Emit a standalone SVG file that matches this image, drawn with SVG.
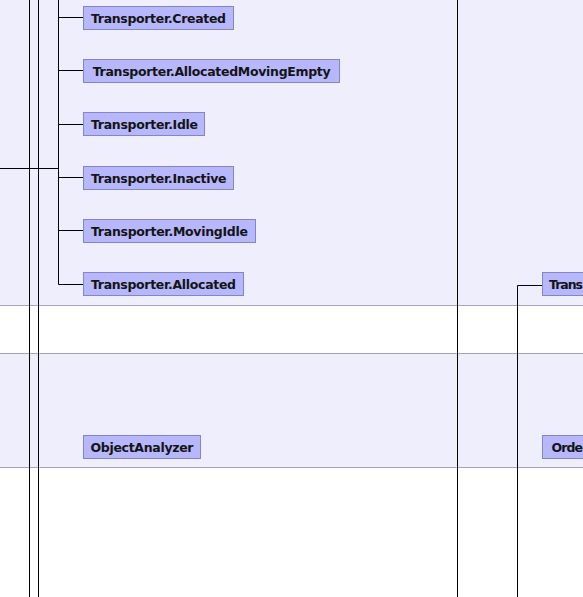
<svg xmlns="http://www.w3.org/2000/svg" width="583" height="597" viewBox="0 0 583 597">
<style>
.band{fill:#EEEEFC}
.sep{stroke:#A3A3B8;stroke-width:1}
.node rect{fill:#B7B7FB;stroke:#8585C4;stroke-width:1}
.node text{font-family:"DejaVu Sans","Liberation Sans",sans-serif;font-weight:bold;font-size:12.5px;fill:#141414}
.conn{stroke:#000;stroke-width:1;fill:none}
</style>
<rect x="0" y="0" width="583" height="597" fill="#FFFFFF"/>
<rect class="band" x="0" y="0" width="583" height="305"/>
<rect class="band" x="0" y="353" width="583" height="114"/>
<line class="sep" x1="0" y1="305.5" x2="583" y2="305.5"/>
<line class="sep" x1="0" y1="353.5" x2="583" y2="353.5"/>
<line class="sep" x1="0" y1="467.5" x2="583" y2="467.5"/>
<g id="connectors">
<path class="conn" d="M29.5 0V597M38.5 0V597M58.5 0V284.5M457.5 0V597"/>
<path class="conn" d="M0 168.5H58.5"/>
<path class="conn" d="M58.5 17.5H83.5M58.5 70.5H83.5M58.5 124.5H83.5M58.5 177.5H83.5M58.5 230.5H83.5M58.5 284.5H83.5"/>
<path class="conn" d="M517.5 597V285.5H542.5"/>
</g>
<g id="n-created" class="node"><rect x="83.5" y="6.5" width="150" height="23"/><text x="91" y="23" textLength="135" lengthAdjust="spacing">Transporter.Created</text></g>
<g id="n-ame" class="node"><rect x="83.5" y="59.5" width="256" height="23"/><text x="92.7" y="76" textLength="238" lengthAdjust="spacing">Transporter.AllocatedMovingEmpty</text></g>
<g id="n-idle" class="node"><rect x="83.5" y="112.5" width="121" height="23"/><text x="91" y="129" textLength="107" lengthAdjust="spacing">Transporter.Idle</text></g>
<g id="n-inactive" class="node"><rect x="83.5" y="166.5" width="150" height="23"/><text x="91" y="183" textLength="135.5" lengthAdjust="spacing">Transporter.Inactive</text></g>
<g id="n-movingidle" class="node"><rect x="83.5" y="219.5" width="172" height="23"/><text x="91" y="236" textLength="157" lengthAdjust="spacing">Transporter.MovingIdle</text></g>
<g id="n-allocated" class="node"><rect x="83.5" y="272.5" width="160" height="23"/><text x="91" y="289" textLength="145" lengthAdjust="spacing">Transporter.Allocated</text></g>
<g id="n-objectanalyzer" class="node"><rect x="83.5" y="435.5" width="117" height="23"/><text x="90.5" y="452" textLength="103" lengthAdjust="spacing">ObjectAnalyzer</text></g>
<g id="n-trans-right" class="node"><rect x="542.5" y="272.5" width="60" height="23"/><text x="549" y="289" textLength="34" lengthAdjust="spacing">Trans</text></g>
<g id="n-order-right" class="node"><rect x="542.5" y="435.5" width="60" height="23"/><text x="551.5" y="452" textLength="31.5" lengthAdjust="spacing">Orde</text></g>
</svg>
